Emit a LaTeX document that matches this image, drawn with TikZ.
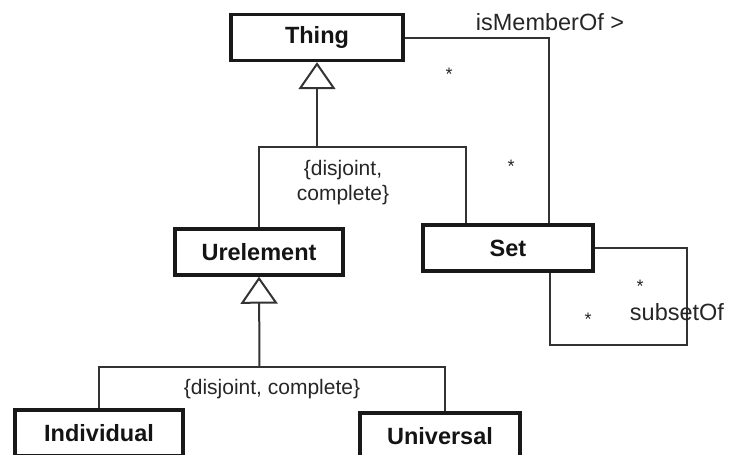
\documentclass[tikz,border=0pt]{standalone}
\usepackage{fontspec}
\setmainfont{Liberation Sans}
\usetikzlibrary{arrows.meta}
\begin{document}
\begin{tikzpicture}[x=1pt,y=-1pt,
  classbox/.style={draw=black!90, line width=3.4pt, rectangle, inner sep=0pt,
    minimum height=46pt, font=\fontsize{23.5}{26}\selectfont\bfseries, text=black!92},
  link/.style={draw=black!80, line width=2pt},
  gen/.style={link, -{Triangle[open, length=27pt, width=37pt, line width=2pt]}},
  lbl/.style={inner sep=0pt, text=black!85, font=\fontsize{23.5}{26}\selectfont},
  cons/.style={inner sep=0pt, text=black!85, align=center, font=\fontsize{21}{25}\selectfont},
  mult/.style={inner sep=0pt, anchor=north, text=black!85, font=\fontsize{18}{20}\selectfont}]
\clip (0,0) rectangle (729,455);
\useasboundingbox (0,0) rectangle (729,455);

% classes
\node[classbox, minimum width=172pt] (Thing) at (317,37.5) {Thing};
\node[classbox, minimum width=168pt] (Urelement) at (259,252) {Urelement};
\node[classbox, minimum width=170pt] (Set) at (508,248) {Set};
\node[classbox, minimum width=168pt] (Individual) at (99,433) {Individual};
\node[classbox, minimum width=160pt] (Universal) at (440,436) {Universal};

% generalization of Thing
\coordinate (g1) at (317,147);
\draw[link] (Urelement.north) |- (g1) -| ([xshift=-42pt]Set.north);
\draw[gen] (g1) -- (Thing.south);
\node[cons] (c1) at (343,182.5) {\{disjoint,\\complete\}};

% generalization of Urelement
\coordinate (g2) at (259.5,367);
\draw[link] (Individual.north) |- (g2) -| ([xshift=5pt]Universal.north);
\draw[gen] (g2) -- (Urelement.south);
\node[cons] (c2) at (272,389) {\{disjoint, complete\}};

% isMemberOf association
\draw[link] (Thing.east) -| ([xshift=41pt]Set.north);
\node[lbl] (member) at (550,22) {isMemberOf >};
\node[mult] (m1) at (449,68) {*};
\node[mult] (m2) at (511,160) {*};

% subsetOf association
\draw[link] (Set.east) -| (687,345) -| ([xshift=42pt]Set.south);
\node[lbl] (subset) at (677,312) {subsetOf};
\node[mult] (m3) at (640,280) {*};
\node[mult] (m4) at (588,313) {*};
\end{tikzpicture}
\end{document}
